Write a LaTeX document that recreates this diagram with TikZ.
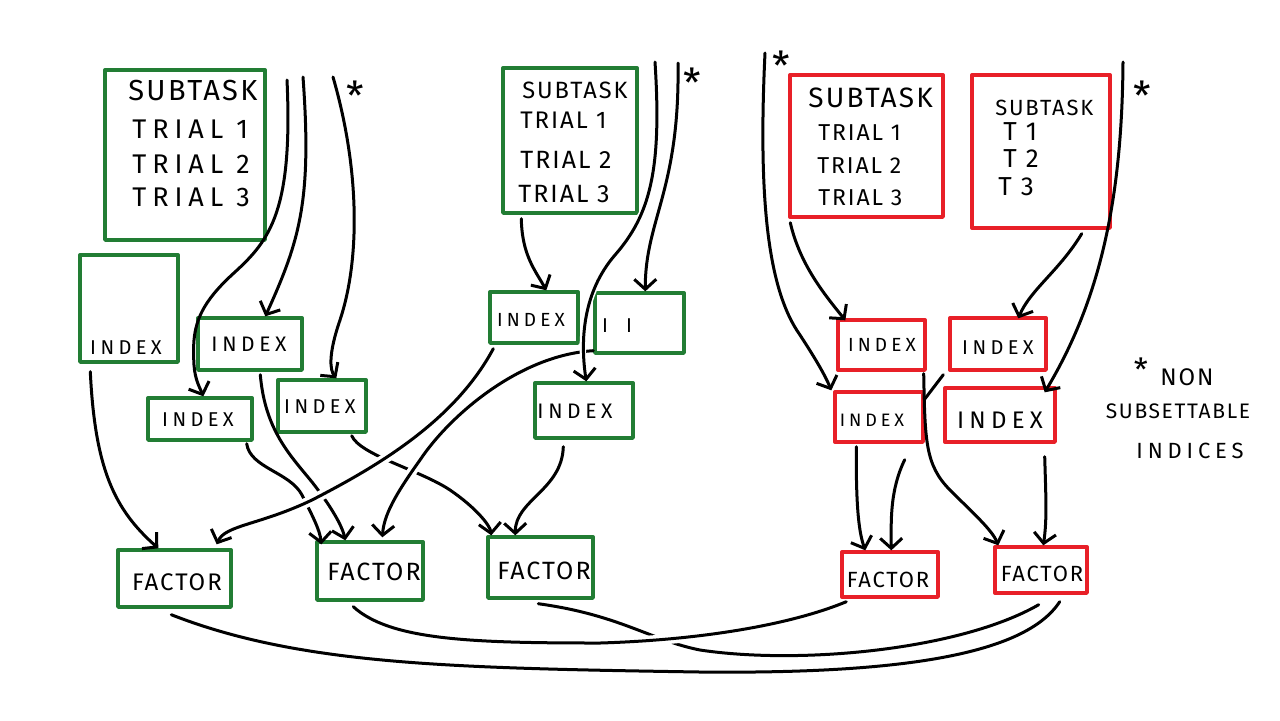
\documentclass[tikz,border=0pt]{standalone}
\usepackage{fontspec}
\setmainfont{Fira Sans}[LetterSpace=8]
\newfontfamily\widefont{Fira Sans}[LetterSpace=22]
\usetikzlibrary{arrows.meta,calc,fit}
\definecolor{boxgreen}{RGB}{34,125,52}
\definecolor{boxred}{RGB}{232,32,40}
\newcommand{\fs}[1]{\fontsize{#1}{#1}\selectfont}
\newcommand{\wfs}[1]{\widefont\fontsize{#1}{#1}\selectfont}

\begin{document}
\begin{tikzpicture}[x=0.5pt,y=-0.5pt,
  gbox/.style={draw=boxgreen, line width=1.7pt, inner sep=0pt, line join=round},
  rbox/.style={draw=boxred, line width=1.7pt, inner sep=0pt, line join=round},
  wire/.style={draw=black, line width=1.5pt, line cap=round},
  arr/.style={wire, -{Straight Barb[length=5pt,width=11pt]}},
  over/.style={preaction={draw=white, -, line width=5pt, shorten <=6pt, shorten >=6pt}},
  thinover/.style={preaction={draw=white, -, line width=3.2pt, shorten <=6pt, shorten >=6pt}},
  txt/.style={inner sep=0pt, anchor=base west},
  ctxt/.style={inner sep=0pt, anchor=center},
  idx/.style={inner sep=0pt, anchor=center, font=\wfs{#1}},
  starmark/.style={inner sep=0pt, anchor=center, font=\fs{20}}]

\useasboundingbox (0,0) rectangle (1280,720);
\fill[white] (0,0) rectangle (1280,720);

% ---------------- first green subtask ----------------
\node[gbox, fit={(105,70) (265,240)}] (g1) {};
\node[txt, font=\fs{14.5}] (g1s) at (128,100) {SUBTASK};
\node[txt, font=\wfs{13.5}] (g1a) at (132,138) {TRIAL 1};
\node[txt, font=\wfs{13.5}] (g1b) at (132,173) {TRIAL 2};
\node[txt, font=\wfs{13.5}] (g1c) at (132,206) {TRIAL 3};

\node[gbox, fit={(80,255) (178,362)}] (ga) {};
\node[idx=10] (gat) at (126,348) {INDEX};
\node[gbox, fit={(198,318) (302,370)}] (gb) {};
\node[idx=10.5] (gbt) at (249,344) {INDEX};
\node[gbox, fit={(148,398) (252,440)}] (gc) {};
\node[idx=10] (gct) at (198,420) {INDEX};
\node[gbox, fit={(278,380) (366,432)}] (gd) {};
\node[idx=10] (gdt) at (320,407) {INDEX};

% ---------------- second green subtask ----------------
\node[gbox, fit={(503,68) (637,213)}] (g2) {};
\node[txt, font=\fs{11.8}] (g2s) at (522,98) {SUBTASK};
\node[txt, font=\fs{12}] (g2a) at (520,128) {TRIAL 1};
\node[txt, font=\fs{12.5}] (g2b) at (520,168) {TRIAL 2};
\node[txt, font=\fs{12.5}] (g2c) at (518,202) {TRIAL 3};

\node[gbox, fit={(490,292) (578,343)}] (ge) {};
\node[idx=9.5] (get) at (531,320) {INDEX};
\node[gbox, fit={(595,293) (684,353)}] (gf) {};
\node[ctxt, font=\fs{10}] (gft) at (617,326) {I\hspace{9pt}I};
\node[gbox, fit={(535,383) (633,438)}] (gg) {};
\node[idx=10.5] (ggt) at (575,411) {INDEX};

% ---------------- green factors ----------------
\node[gbox, fit={(118,550) (231,607)}] (f1) {};
\node[ctxt, font=\fs{12}] (f1t) at (177,582) {FACTOR};
\node[gbox, fit={(317,542) (423,600)}] (f2) {};
\node[ctxt, font=\fs{12.5}] (f2t) at (374,572) {FACTOR};
\node[gbox, fit={(488,537) (593,598)}] (f3) {};
\node[ctxt, font=\fs{12.5}] (f3t) at (544,571) {FACTOR};

% ---------------- red subtasks ----------------
\node[rbox, fit={(790,75) (943,217)}] (r1) {};
\node[txt, font=\fs{14}] (r1s) at (808,107) {SUBTASK};
\node[txt, font=\fs{11.5}] (r1a) at (818,140) {TRIAL 1};
\node[txt, font=\fs{11.5}] (r1b) at (817,173) {TRIAL 2};
\node[txt, font=\fs{11.5}] (r1c) at (818,205) {TRIAL 3};

\node[rbox, fit={(972,75) (1110,228)}] (r2) {};
\node[txt, font=\fs{11}] (r2s) at (995,115) {SUBTASK};
\node[txt, font=\fs{13}] (r2a) at (1003,140) {T 1};
\node[txt, font=\fs{13}] (r2b) at (1003,167) {T 2};
\node[txt, font=\fs{13}] (r2c) at (998,195) {T 3};

\node[rbox, fit={(838,320) (925,370)}] (rh) {};
\node[idx=9.5] (rht) at (882,345) {INDEX};
\node[rbox, fit={(950,318) (1046,370)}] (ri) {};
\node[idx=10] (rit) at (998,348) {INDEX};
\node[rbox, fit={(835,392) (923,442)}] (rj) {};
\node[idx=9] (rjt) at (872,420) {INDEX};
\node[rbox, fit={(945,388) (1055,442)}] (rk) {};
\node[idx=12] (rkt) at (1000,420) {INDEX};

% ---------------- red factors ----------------
\node[rbox, fit={(842,552) (938,597)}] (f4) {};
\node[ctxt, font=\fs{11}] (f4t) at (888,580) {FACTOR};
\node[rbox, fit={(995,547) (1087,593)}] (f5) {};
\node[ctxt, font=\fs{11}] (f5t) at (1042,574) {FACTOR};

% ---------------- stars and legend ----------------
\node[starmark] (s1) at (355,96) {*};
\node[starmark] (s2) at (692,83) {*};
\node[starmark] (s3) at (781,66) {*};
\node[starmark] (s4) at (1142,96) {*};
\node[starmark, font=\fs{16}] (s5) at (1141,370) {*};
\node[ctxt, font=\fs{12}] (lg1) at (1187,377) {NON};
\node[ctxt, font=\fs{10.5}] (lg2) at (1178,411) {SUBSETTABLE};
\node[idx=11] (lg3) at (1190,451) {INDICES};

% free upper ends of the incoming lines
\coordinate (t1) at (287,80);
\coordinate (t2) at (303,77);
\coordinate (t3) at (333,77);
\coordinate (t5) at (655,62);
\coordinate (t6) at (678,63);
\coordinate (t7) at (765,53);
\coordinate (t8) at (1123,62);
\coordinate (j1) at (924,400);

% ---------------- lines into the green indices ----------------
\draw[arr] (t1) .. controls (293,210) and (270,240) .. (235,272)
  .. controls (195,308) and (192,330) .. (194,365)
  .. controls (195,380) and (200,388) .. ($(gc.north west)+(57,0)$);
\draw[arr] (t2) .. controls (312,200) and (300,240) .. ($(gb.north west)+(69,0)$);
\draw[arr] (t3) .. controls (360,170) and (360,260) .. (340,320)
  .. controls (328,355) and (330,370) .. ($(gd.north west)+(60,0)$);
\draw[arr] ($(g2.south west)+(20,4)$) .. controls (522,255) and (535,270) .. ($(ge.north west)+(58,0)$);
\draw[arr] (t6) .. controls (680,190) and (645,220) .. ($(gf.north west)+(52,0)$);

% ---------------- lines into the green factors ----------------
\draw[arr] ($(ga.south west)+(12,8)$) .. controls (95,470) and (115,510) .. ($(f1.north west)+(42,0)$);
\draw[arr] ($(gc.south east)+(-7,2)$) .. controls (250,468) and (290,472) .. (302,495)
  .. controls (312,515) and (320,530) .. ($(f2.north west)+(6,4)$);
\draw[arr] ($(gb.south west)+(64,3)$) .. controls (265,430) and (290,455) .. (312,482)
  .. controls (330,505) and (342,525) .. ($(f2.north west)+(30,0)$);
\draw[arr] ($(gd.south east)+(-16,2)$) .. controls (360,455) and (420,470) .. (450,490)
  .. controls (475,507) and (490,525) .. ($(f3.north west)+(5,0)$);
\draw[arr] ($(gg.south west)+(30,7)$) .. controls (562,490) and (515,500) .. ($(f3.north west)+(29,0)$);
\draw[arr, over] ($(ge.south west)+(5,4)$) .. controls (455,420) and (380,465) .. (312,500)
  .. controls (260,525) and (225,525) .. ($(f1.north east)+(-16,-4)$);
\draw[arr, over] ($(gf.south west)+(0,-4)$) .. controls (520,355) and (450,415) .. (420,460)
  .. controls (395,495) and (384,515) .. ($(f2.north west)+(67,-3)$);
\draw[arr, thinover] (t5) .. controls (662,170) and (650,215) .. (615,255)
  .. controls (583,292) and (580,340) .. ($(gg.north west)+(53,0)$);

% ---------------- red lines ----------------
\draw[arr] (t7) .. controls (758,200) and (768,290) .. (800,335)
  .. controls (815,358) and (825,375) .. ($(rj.north west)+(-2,0)$);
\draw[arr] ($(r1.south west)+(2,4)$) .. controls (800,265) and (825,295) .. ($(rh.north west)+(9,2)$);
\draw[arr] ($(r2.south east)+(-30,4)$) .. controls (1060,270) and (1030,290) .. ($(ri.north west)+(70,2)$);
\draw[arr] (t8) .. controls (1122,200) and (1100,300) .. ($(rk.north east)+(-12,6)$);
\draw[arr] ($(rh.south east)+(-3,2)$) .. controls (925,440) and (925,465) .. (950,490)
  .. controls (975,515) and (992,530) .. ($(f5.north west)+(5,0)$);
\draw[wire] ($(ri.south west)+(-5,3)$) -- (j1);
\draw[arr] ($(rj.south west)+(23,3)$) .. controls (856,500) and (858,530) .. ($(f4.north west)+(25,0)$);
\draw[arr] ($(rj.south east)+(-20,16)$) .. controls (890,490) and (891,520) .. ($(f4.north west)+(51,0)$);
\draw[arr] ($(rk.south east)+(-12,13)$) .. controls (1046,500) and (1047,520) .. ($(f5.north west)+(50,0)$);

% ---------------- links between the factors ----------------
\draw[wire] ($(f1.south west)+(55,6)$) .. controls (300,665) and (450,668) .. (700,672)
  .. controls (900,674) and (1025,655) .. ($(f5.south east)+(-29,7)$);
\draw[wire] ($(f3.south west)+(52,4)$) .. controls (620,615) and (650,640) .. (700,650)
  .. controls (800,665) and (960,650) .. ($(f5.south east)+(-50,10)$);
\draw[wire, over] ($(f2.south west)+(38,5)$) .. controls (390,640) and (470,643) .. (600,643)
  .. controls (700,640) and (790,625) .. ($(f4.south west)+(6,3)$);
\end{tikzpicture}
\end{document}
